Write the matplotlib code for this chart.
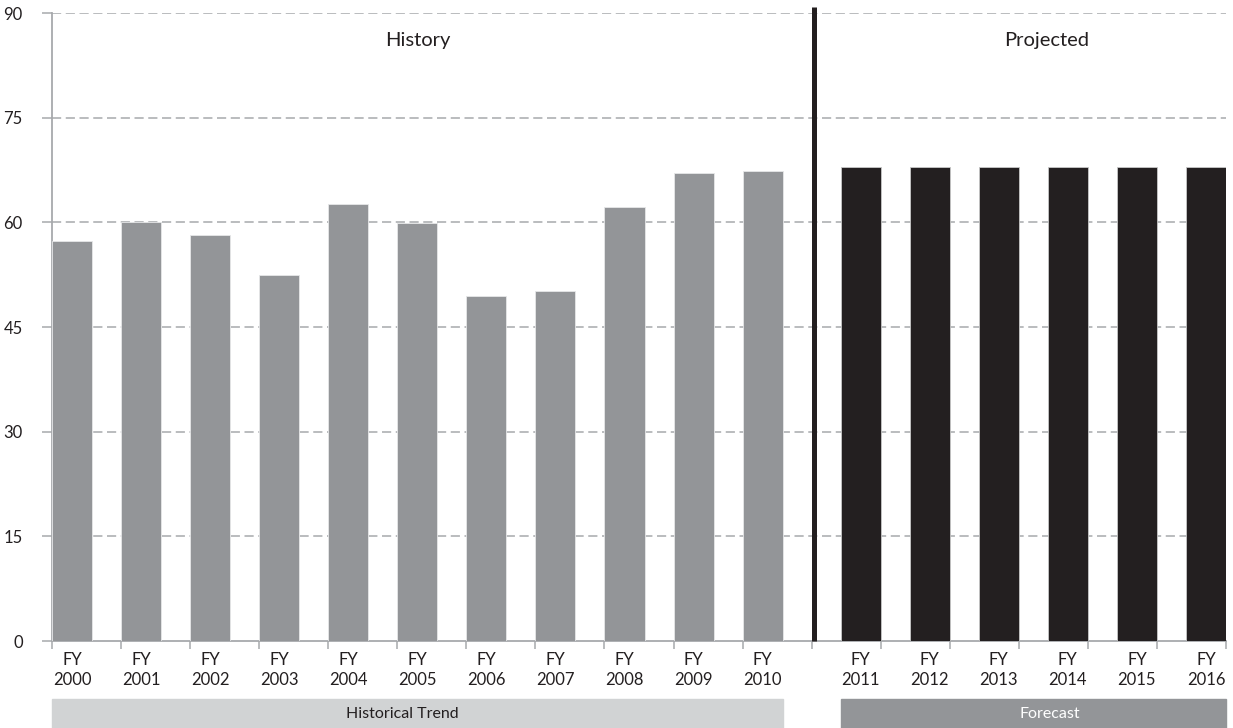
import numpy as np
import matplotlib
matplotlib.use("Agg")
from matplotlib import pyplot as plt
from matplotlib import transforms

plt.rcParams['font.family'] = ['Lato', 'DejaVu Sans']

# 数据
hist_years = ["2000", "2001", "2002", "2003", "2004", "2005", "2006",
              "2007", "2008", "2009", "2010"]
hist_vals = [57.3, 60.0, 58.2, 52.4, 62.6, 59.9, 49.5, 50.2, 62.2, 67.0, 67.3]
proj_years = ["2011", "2012", "2013", "2014", "2015", "2016"]
proj_vals = [67.9, 67.9, 67.9, 67.9, 67.9, 67.9]
y_ticks = [0, 15, 30, 45, 60, 75, 90]

c_text = "#231f20"
c_grid = "#a7a9ac"
c_hist = "#939598"
c_proj = "#231f20"

fig = plt.figure(figsize=(12.33, 7.28), dpi=100)
ax = fig.add_axes([52 / 1233, 1 - 641 / 728, (1226 - 52) / 1233, 628 / 728])

n_hist = len(hist_years)
n_all = n_hist + len(proj_years)
w = 0.58

# 历史柱子靠左，预测柱子靠右
x_hist = np.arange(n_hist) + w / 2
x_proj = np.arange(n_hist, n_all) + 1 - w / 2
ax.bar(x_hist, hist_vals, width=w, color=c_hist, edgecolor="#e6e7e8", linewidth=0.6, zorder=3)
ax.bar(x_proj, proj_vals, width=w, color=c_proj, edgecolor="#c8c8c8", linewidth=0.6, zorder=3)

ax.set_xlim(0, n_all)
ax.set_ylim(0, 90)

# 网格
ax.set_yticks(y_ticks)
ax.set_yticklabels([str(t) for t in y_ticks], fontsize=12, color=c_text)
for t in y_ticks[1:]:
    ax.axhline(t, color=c_grid, linewidth=1.1, dashes=(6, 3), zorder=1)

# x轴：刻度在分界处，标签在柱子中心
ax.set_xticks(np.arange(n_all + 1))
ax.set_xticklabels([])
ax.set_xticks(np.concatenate([x_hist, x_proj]), minor=True)
ax.set_xticklabels(["FY\n" + y for y in hist_years + proj_years], minor=True,
                   fontsize=12, color=c_text, linespacing=1.3)
ax.tick_params(axis="x", which="major", direction="out", length=6, width=1.1, color=c_grid)
ax.tick_params(axis="x", which="minor", length=0, pad=8)
ax.tick_params(axis="y", direction="out", length=7, width=1.1, color=c_grid, pad=14)

for s in ["top", "right"]:
    ax.spines[s].set_visible(False)
ax.spines["left"].set_color(c_grid)
ax.spines["left"].set_linewidth(1.3)
ax.spines["bottom"].set_color(c_grid)
ax.spines["bottom"].set_linewidth(1.3)

# 分隔线
ax.plot([n_hist + 0.04, n_hist + 0.04], [0, 90.8], color=c_proj, linewidth=3.6,
        solid_capstyle="butt", clip_on=False, zorder=4)

ax.text(5.3, 86.0, "History", fontsize=14.5, color=c_text, ha="center", va="center")
ax.text(14.4, 86.0, "Projected", fontsize=14.5, color=c_text, ha="center", va="center")

# 底部色块
trans = transforms.blended_transform_factory(ax.transData, ax.transAxes)
ax.add_patch(plt.Rectangle((0, -0.1385), n_hist - 1 + w, 0.046, transform=trans,
                           color="#d1d3d4", clip_on=False, zorder=0))
ax.add_patch(plt.Rectangle((n_hist + 1 - w, -0.1385), n_all - (n_hist + 1 - w), 0.046,
                           transform=trans, color=c_hist, clip_on=False, zorder=0))
ax.text(5.07, -0.1155, "Historical Trend", transform=trans, fontsize=11.5, color=c_text,
        ha="center", va="center")
ax.text(14.45, -0.1155, "Forecast", transform=trans, fontsize=11.5, color="white",
        ha="center", va="center")

plt.savefig("out.png", dpi=100)
